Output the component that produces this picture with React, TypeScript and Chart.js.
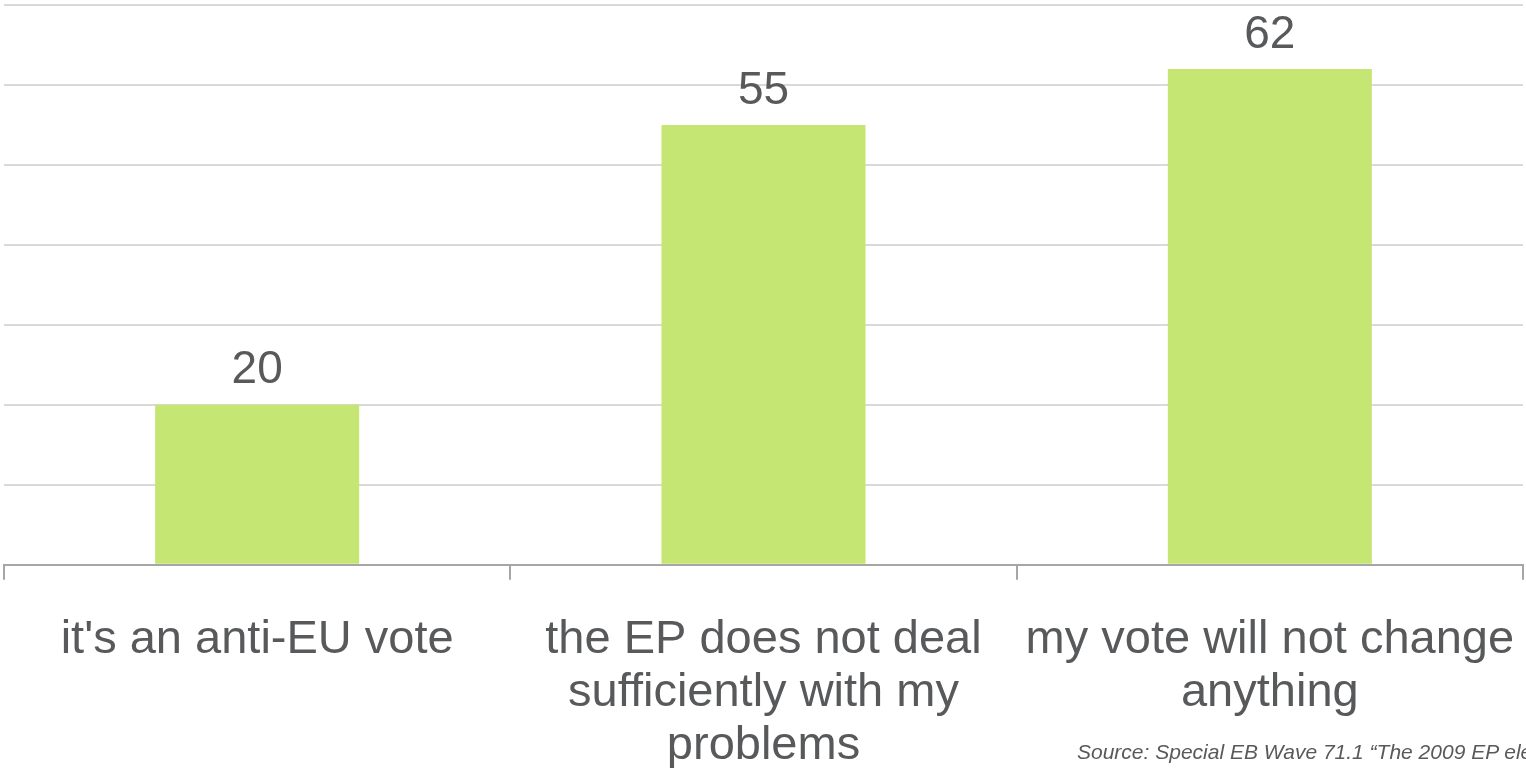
import React, { useEffect, useRef } from "react";
import { Chart, registerables } from "chart.js";

Chart.register(...registerables);

const categories: (string | string[])[] = [
  "it's an anti-EU vote",
  ["the EP does not deal", "sufficiently with my", "problems"],
  ["my vote will not change", "anything"],
];
const values: number[] = [20, 55, 62];
const sourceText = "Source: Special EB Wave 71.1 \u201cThe 2009 EP elections\u201d";

const TEXT_COLOR = "#58595b";
const FONT = "Arial, 'Liberation Sans', sans-serif";

const valueLabels = {
  id: "valueLabels",
  afterDatasetsDraw(chart: any) {
    const ctx = chart.ctx;
    const meta = chart.getDatasetMeta(0);
    ctx.save();
    ctx.fillStyle = TEXT_COLOR;
    ctx.font = `46px ${FONT}`;
    ctx.textAlign = "center";
    ctx.textBaseline = "middle";
    meta.data.forEach((bar: any, i: number) => {
      ctx.fillText(String(values[i]), bar.x, bar.y - 34);
    });
    ctx.restore();
  },
};

export default function App() {
  const ref = useRef<HTMLCanvasElement>(null);
  useEffect(() => {
    if (!ref.current) return;
    const chart = new Chart(ref.current, {
      type: "bar",
      data: {
        labels: categories,
        datasets: [
          {
            data: values,
            backgroundColor: "#c5e672",
            barPercentage: 0.403,
            categoryPercentage: 1,
          },
        ],
      },
      options: {
        animation: false,
        responsive: false,
        maintainAspectRatio: false,
        layout: { padding: { top: 5, left: 4, right: 3, bottom: 0 } },
        plugins: { legend: { display: false }, tooltip: { enabled: false } },
        scales: {
          x: {
            afterFit: (scale: any) => {
              scale.paddingLeft = 0;
              scale.paddingRight = 0;
            },
            border: { display: true, color: "#a6a6a6", width: 2 },
            grid: {
              display: true,
              drawOnChartArea: false,
              drawTicks: true,
              tickLength: 15,
              color: "#a6a6a6",
              lineWidth: 2,
              offset: true,
            },
            ticks: {
              color: TEXT_COLOR,
              font: { family: FONT, size: 47, lineHeight: 1.13 },
              padding: 34,
              maxRotation: 0,
              minRotation: 0,
              autoSkip: false,
            },
          },
          y: {
            min: 0,
            max: 70,
            border: { display: false },
            grid: { color: "#d9d9d9", lineWidth: 2, drawTicks: false },
            ticks: { display: false, stepSize: 10 },
          },
        },
      },
      plugins: [valueLabels],
    });
    return () => chart.destroy();
  }, []);

  return (
    <div
      style={{
        position: "fixed",
        left: 0,
        top: 0,
        width: 1526,
        height: 768,
        overflow: "hidden",
        background: "#ffffff",
      }}
    >
      <canvas ref={ref} width={1526} height={807} style={{ display: "block" }} />
      <div
        style={{
          position: "absolute",
          left: 1077,
          top: 740,
          fontFamily: FONT,
          fontStyle: "italic",
          fontSize: 21,
          lineHeight: "24px",
          color: TEXT_COLOR,
          whiteSpace: "nowrap",
        }}
      >
        {sourceText}
      </div>
    </div>
  );
}
